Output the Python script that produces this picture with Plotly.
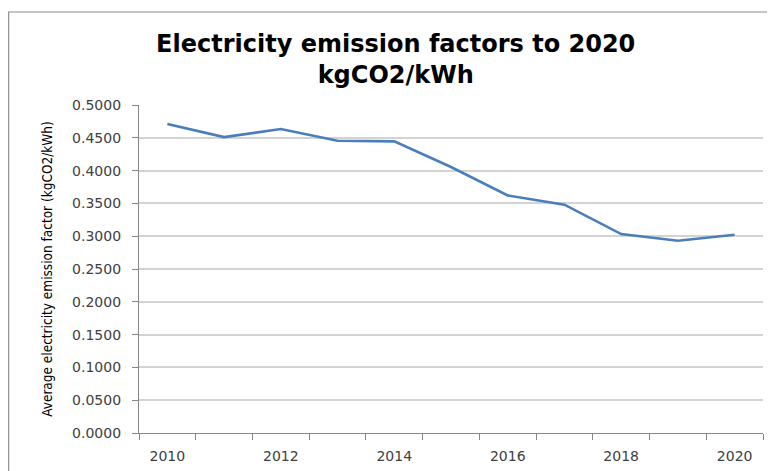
import plotly.graph_objects as go

years = [2010, 2011, 2012, 2013, 2014, 2015, 2016, 2017, 2018, 2019, 2020]
emission_factor = [0.4710, 0.4510, 0.4634, 0.4456, 0.4445, 0.4055, 0.3622, 0.3480, 0.3033, 0.2931, 0.3023]
y_ticks = [0.0, 0.05, 0.10, 0.15, 0.20, 0.25, 0.30, 0.35, 0.40, 0.45, 0.50]
x_labels = [2010, 2012, 2014, 2016, 2018, 2020]

title_text = "Electricity emission factors to 2020<br>kgCO2/kWh"
y_title = "Average electricity emission factor (kgCO2/kWh)"

W, H = 767, 463
L, R, T, B = 131, 12, 97, 38
PW, PH = W - L - R, H - T - B

fig = go.Figure()
fig.add_trace(go.Scatter(
    x=years, y=emission_factor, mode="lines",
    line=dict(color="#4a7ebb", width=2.6),
    showlegend=False, hoverinfo="x+y",
))

boundaries = [y - 0.5 for y in years] + [years[-1] + 0.5]

fig.update_layout(
    width=W, height=H,
    margin=dict(l=L, r=R, t=T, b=B, autoexpand=False),
    paper_bgcolor="white", plot_bgcolor="white",
    title=dict(text=title_text, x=0.5055, xanchor="center", y=1 - 43.5 / H, yanchor="top",
               automargin=False,
               font=dict(family="DejaVu Sans, sans-serif", size=24, color="black", weight="bold")),
    font=dict(family="DejaVu Sans, sans-serif", color="#404040"),
    shapes=[dict(type="rect", xref="paper", yref="paper",
                 x0=(0.7 - L) / PW, x1=1.1, y0=-0.3, y1=(H - B - 4) / PH,
                 line=dict(color="#8c8c8c", width=1.2), fillcolor="rgba(0,0,0,0)", layer="below")],
)

fig.update_xaxes(
    automargin=False,
    range=[boundaries[0], boundaries[-1]],
    tickmode="array", tickvals=x_labels, ticktext=[str(v) for v in x_labels],
    ticks="outside", ticklen=0, tickcolor="#868686",
    ticklabelstandoff=10,
    tickfont=dict(size=14, color="#404040"),
    showline=True, linecolor="#868686", linewidth=1.2,
    showgrid=False, zeroline=False,
    minor=dict(tickmode="array", tickvals=boundaries, ticks="outside", ticklen=6,
               tickcolor="#868686", tickwidth=1.2, showgrid=False),
)

fig.update_yaxes(
    automargin=False,
    range=[0, 0.5],
    tickmode="array", tickvals=y_ticks, tickformat=".4f",
    ticks="outside", ticklen=6, tickcolor="#868686", tickwidth=1.2,
    ticklabelstandoff=8,
    tickfont=dict(size=14, color="#404040"),
    showline=True, linecolor="#868686", linewidth=1.2,
    showgrid=True, gridcolor="#d3d3d3", gridwidth=1.5,
    zeroline=False,
    title=dict(text=y_title, standoff=16,
               font=dict(family="Liberation Sans Narrow, DejaVu Sans Condensed, sans-serif", size=13.5, color="black")),
)

fig.write_html("out.html")
